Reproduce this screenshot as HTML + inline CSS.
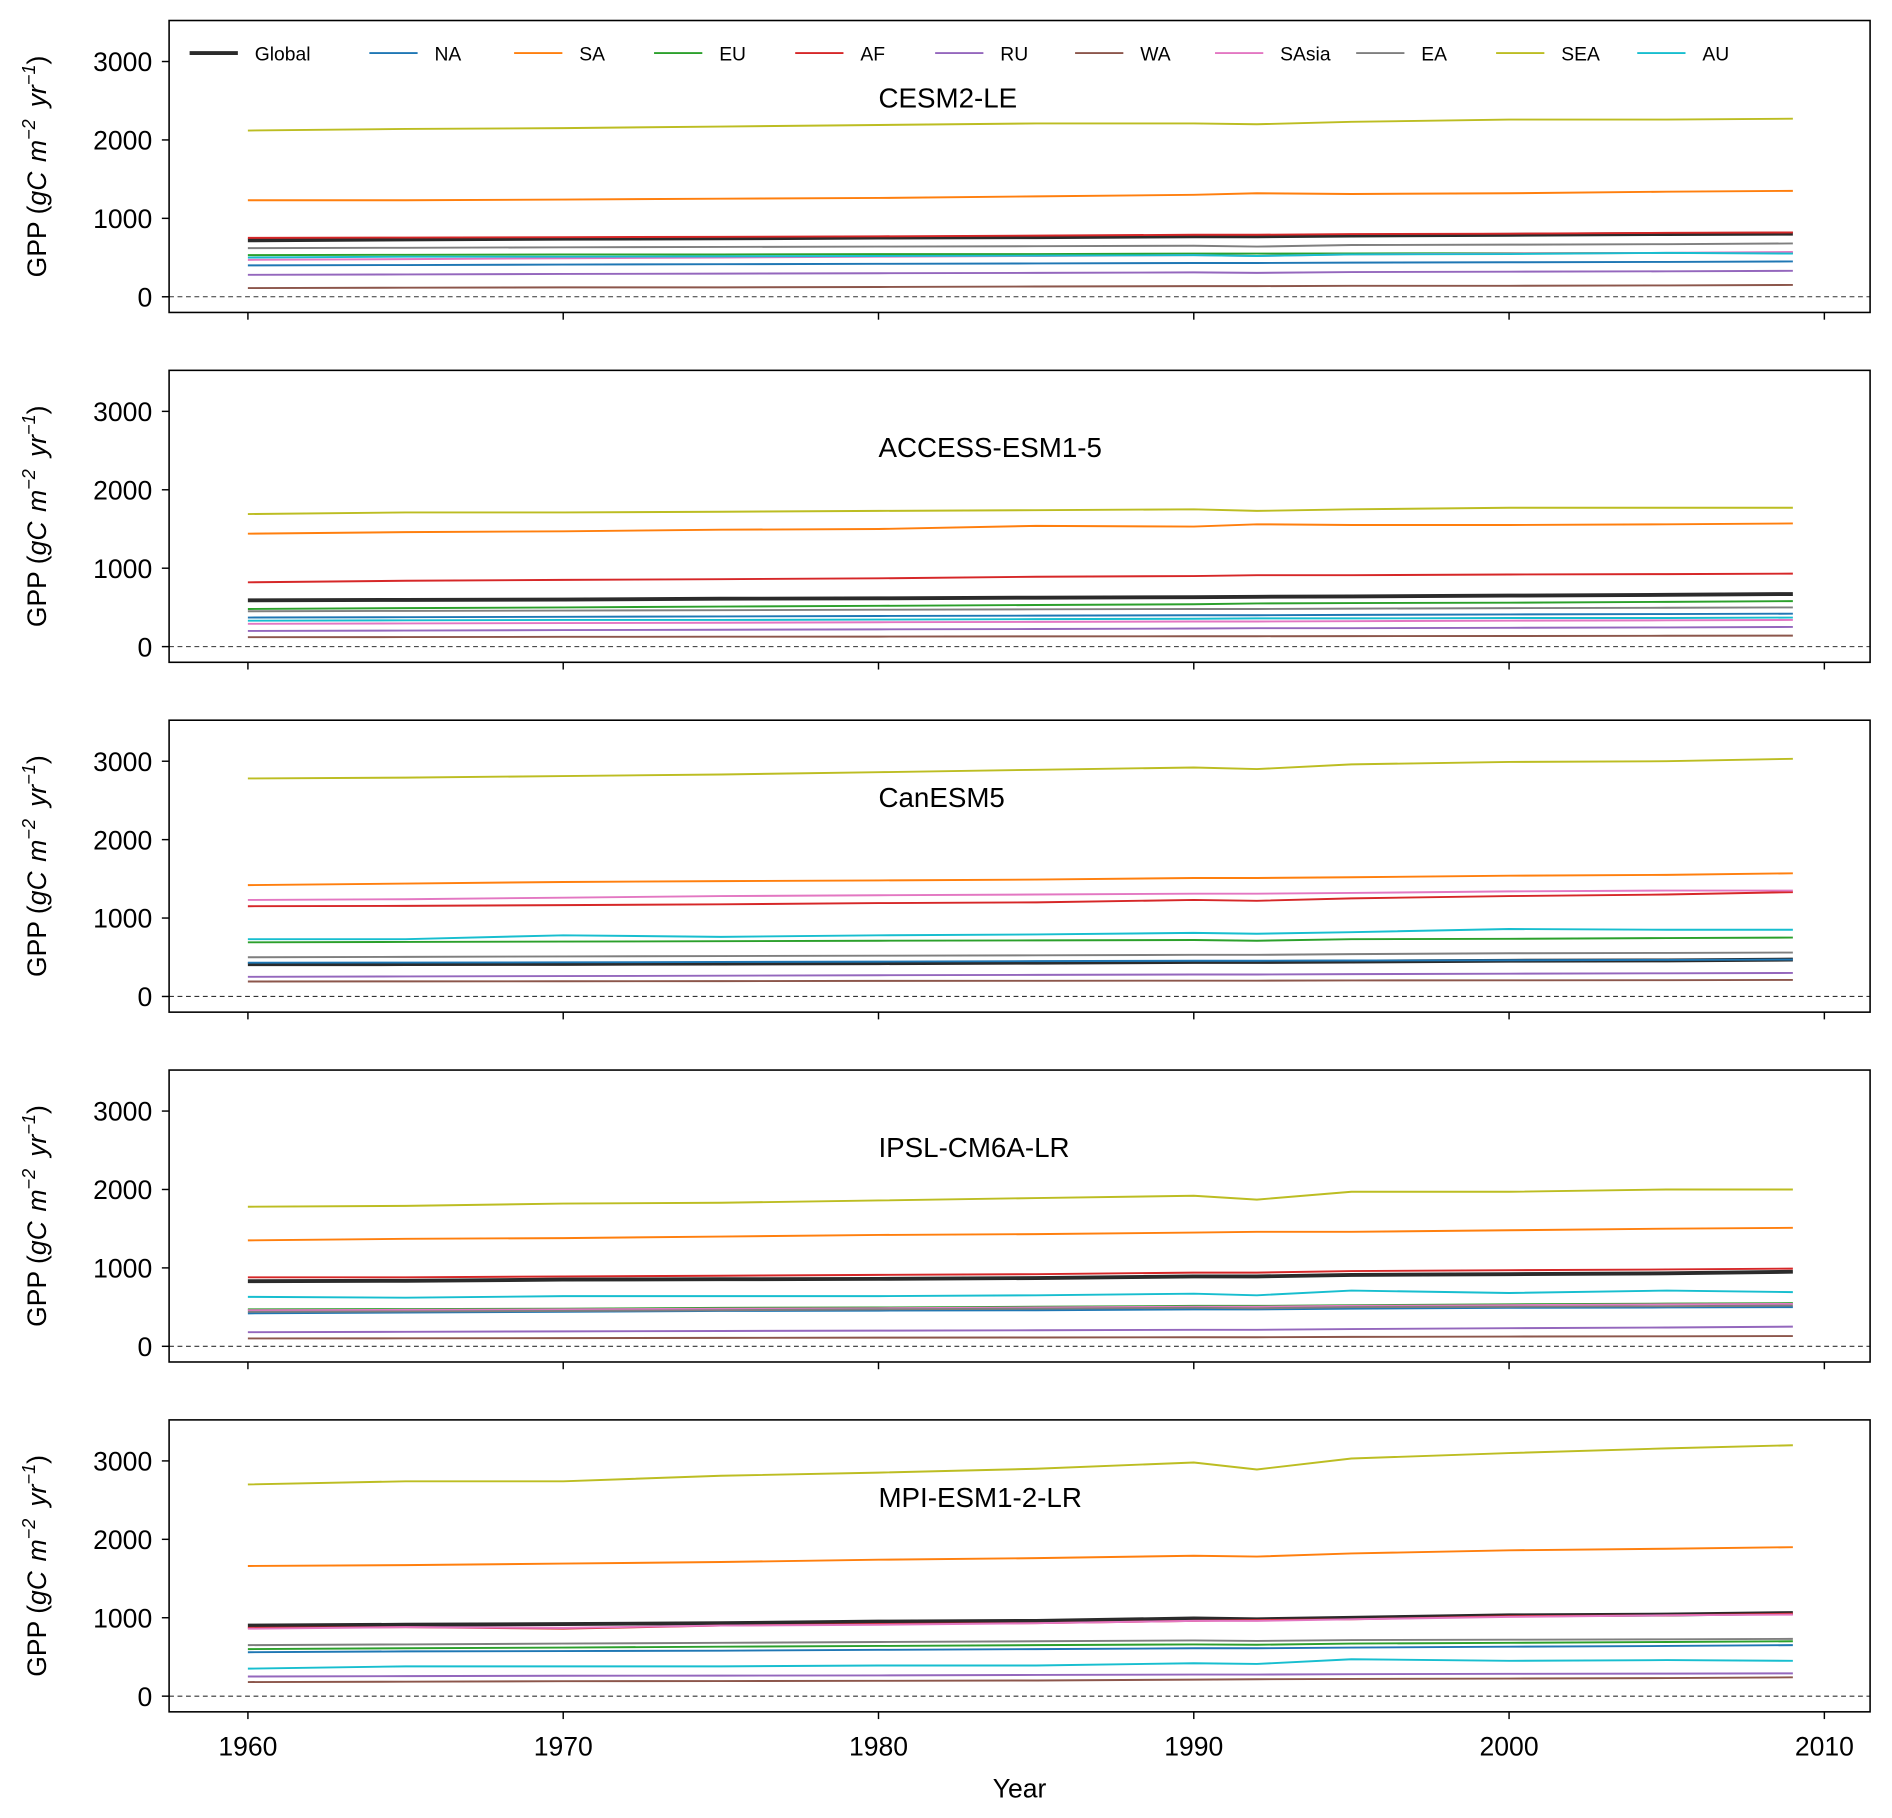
<!DOCTYPE html>
<html><head><meta charset="utf-8"><style>
html,body{margin:0;padding:0;background:#fff;}
svg{display:block;font-family:"Liberation Sans","DejaVu Sans",sans-serif;}
</style></head><body>
<svg id="chart" width="1892" height="1818" viewBox="0 0 1568 1507" xmlns="http://www.w3.org/2000/svg"></svg>
<script>
const years = [1960,1965,1970,1975,1980,1985,1990,1992,1995,2000,2005,2009];
const seriesNames = ["Global","NA","SA","EU","AF","RU","WA","SAsia","EA","SEA","AU"];
const seriesColors = ["#2b2b2b","#1f77b4","#ff7f0e","#2ca02c","#d62728","#9467bd","#8c564b","#e377c2","#7f7f7f","#bcbd22","#17becf"];
const panelTitles = ["CESM2-LE","ACCESS-ESM1-5","CanESM5","IPSL-CM6A-LR","MPI-ESM1-2-LR"];
const yTicks = [0,1000,2000,3000];
const xTicks = [1960,1970,1980,1990,2000,2010];
// values per panel: [Global, NA, SA, EU, AF, RU, WA, SAsia, EA, SEA, AU]
const cesm = [
 [720,730,740,745,755,760,770,770,780,790,800,805],
 [400,405,410,415,420,425,430,430,435,440,445,450],
 [1230,1230,1240,1250,1260,1280,1300,1320,1310,1320,1340,1350],
 [530,535,540,540,545,545,550,550,552,555,558,560],
 [750,755,760,765,770,780,790,790,800,805,815,820],
 [280,285,290,295,300,305,310,305,315,320,325,330],
 [110,115,120,120,125,130,135,135,140,140,145,150],
 [470,480,490,500,510,520,530,520,540,550,560,570],
 [620,625,630,635,640,645,650,640,660,665,670,680],
 [2120,2140,2150,2170,2190,2210,2210,2200,2230,2260,2260,2270],
 [500,510,510,515,520,525,530,520,540,545,560,550]];
const access = [
 [590,595,600,610,615,625,630,635,640,650,660,670],
 [370,375,380,385,390,395,400,400,405,410,415,420],
 [1440,1460,1470,1490,1500,1540,1530,1560,1550,1550,1560,1570],
 [480,490,500,510,520,530,540,550,555,560,570,580],
 [820,840,850,860,870,890,900,910,910,920,925,930],
 [200,205,210,215,220,225,230,235,235,240,245,250],
 [120,122,124,126,128,130,132,132,134,136,138,140],
 [290,295,300,305,310,315,320,320,325,330,335,340],
 [450,455,460,465,470,475,480,480,485,490,495,500],
 [1690,1710,1710,1720,1730,1740,1750,1730,1750,1770,1770,1770],
 [330,335,340,340,345,350,355,360,360,365,365,370]];
const canesm = [
 [410,412,415,420,425,430,440,440,445,455,460,470],
 [430,432,435,440,445,450,455,455,458,462,466,470],
 [1420,1440,1460,1470,1480,1490,1510,1510,1520,1540,1550,1570],
 [690,695,700,705,710,715,720,710,730,735,745,750],
 [1150,1155,1165,1175,1190,1200,1230,1220,1250,1280,1300,1330],
 [250,255,260,265,270,275,280,280,285,290,295,300],
 [190,192,194,196,198,200,202,202,204,206,208,210],
 [1230,1240,1260,1280,1290,1300,1310,1310,1320,1340,1350,1350],
 [500,505,510,515,520,525,530,530,540,550,555,560],
 [2780,2790,2810,2830,2860,2890,2920,2900,2960,2990,3000,3030],
 [730,730,780,760,780,790,810,800,820,860,850,850]];
const ipsl = [
 [830,835,850,855,860,870,890,890,910,920,930,950],
 [420,430,440,450,455,460,470,470,480,490,495,500],
 [1350,1370,1380,1400,1420,1430,1450,1460,1460,1480,1500,1510],
 [470,475,480,490,495,505,515,515,525,535,545,550],
 [880,880,890,900,910,920,940,940,960,970,980,990],
 [180,185,190,195,200,205,210,210,220,230,240,250],
 [100,102,105,108,110,112,115,115,120,124,127,130],
 [460,465,470,480,485,495,505,505,515,525,535,540],
 [440,445,450,460,470,480,490,485,500,505,510,520],
 [1780,1790,1820,1830,1860,1890,1920,1870,1970,1970,2000,2000],
 [630,620,640,640,640,650,670,650,710,680,710,690]];
const mpi = [
 [900,910,920,930,950,960,990,980,1000,1030,1040,1060],
 [560,570,575,580,590,600,610,610,620,630,640,650],
 [1660,1670,1690,1710,1740,1760,1790,1780,1820,1860,1880,1900],
 [600,610,620,630,640,650,660,655,670,680,690,700],
 [870,880,860,900,920,930,960,970,980,1020,1030,1050],
 [250,255,260,262,265,270,275,275,280,285,288,290],
 [180,185,190,192,195,200,210,215,220,225,230,240],
 [860,880,870,900,910,930,960,960,980,1010,1030,1040],
 [650,660,670,680,690,700,710,705,715,720,725,730],
 [2700,2740,2740,2810,2850,2900,2980,2890,3030,3100,3160,3200],
 [350,380,380,380,390,390,420,410,470,450,460,450]];
const panelData = [cesm, access, canesm, ipsl, mpi];

const NS = "http://www.w3.org/2000/svg";
const svg = document.getElementById("chart");
function el(tag, attrs, parent, text){
  const e = document.createElementNS(NS, tag);
  for (const k in attrs) e.setAttribute(k, attrs[k]);
  if (text !== undefined) e.textContent = text;
  (parent || svg).appendChild(e);
  return e;
}
const L = 140, R = 1550, PH = 242, GAP = 290, TOP0 = 17;
const X0 = 1957.5, X1 = 2011.45, Y0 = -200, Y1 = 3523;
function xs(v){ return L + (v - X0) / (X1 - X0) * (R - L); }
function ys(v, top){ return top + PH - (v - Y0) / (Y1 - Y0) * PH; }

panelData.forEach((data, p) => {
  const top = TOP0 + p * GAP;
  const g = el("g", {});
  
  
  const zl = el("line", {x1:L, x2:R, y1:ys(0,top), y2:ys(0,top), stroke:"#333", "stroke-width":0.9, "stroke-dasharray":"4,3"}, g);
  
  
  data.forEach((vals, i) => {
    const pts = vals.map((v, j) => xs(years[j]).toFixed(1) + "," + ys(v, top).toFixed(1)).join(" ");
    const pl = el("polyline", {points:pts, fill:"none", stroke:seriesColors[i], "stroke-width": i === 0 ? 3.2 : 1.6, "stroke-linejoin":"round"}, g);
    
    
  });
  const fr = el("rect", {x:L, y:top, width:R-L, height:PH, fill:"none", stroke:"#000", "stroke-width":1.3}, g);
  
  
  yTicks.forEach(t => {
    const y = ys(t, top);
    el("line", {x1:L-6, x2:L, y1:y, y2:y, stroke:"#000", "stroke-width":1.2}, g);
    const tl = el("text", {x:L-14, y:y+8, "font-size":22, "text-anchor":"end", fill:"#000"}, g, String(t));
    
    
  });
  xTicks.forEach(t => {
    const x = xs(t);
    el("line", {x1:x, x2:x, y1:top+PH, y2:top+PH+6, stroke:"#000", "stroke-width":1.2}, g);
    if (p === panelData.length - 1) {
      const xl = el("text", {x:x, y:top+PH+36, "font-size":22, "text-anchor":"middle", fill:"#000"}, g, String(t));
      
      
    }
  });
  const tt = el("text", {x:728, y:top+72, "font-size":23, fill:"#000"}, g, panelTitles[p]);
  
  
  const cy = top + PH/2;
  const yl = el("text", {x:0, y:0, "font-size":22, "text-anchor":"middle", fill:"#000", transform:"translate(38," + cy + ") rotate(-90)"}, g);
  
  
  yl.innerHTML = 'GPP (<tspan font-style="italic">gC</tspan><tspan font-style="italic" dx="8">m</tspan><tspan font-style="italic" dy="-9" font-size="15">−2</tspan><tspan dy="9" dx="10" font-style="italic">yr</tspan><tspan font-style="italic" dy="-9" font-size="15">−1</tspan><tspan dy="9">)</tspan>';
});

const legendX = [157,306,426,542,659,775,891,1007,1124,1240,1357];
seriesNames.forEach((n, i) => {
  const x = legendX[i];
  const lg = el("g", {});
  
  
  el("line", {x1:x, x2:x+40, y1:44, y2:44, stroke:seriesColors[i], "stroke-width": i === 0 ? 3.2 : 1.6}, lg);
  el("text", {x:x+54, y:50, "font-size":16, fill:"#000"}, lg, n);
});

const xt = el("text", {x:845, y:1490, "font-size":22, "text-anchor":"middle", fill:"#000"}, svg, "Year");


</script>
</body></html>
